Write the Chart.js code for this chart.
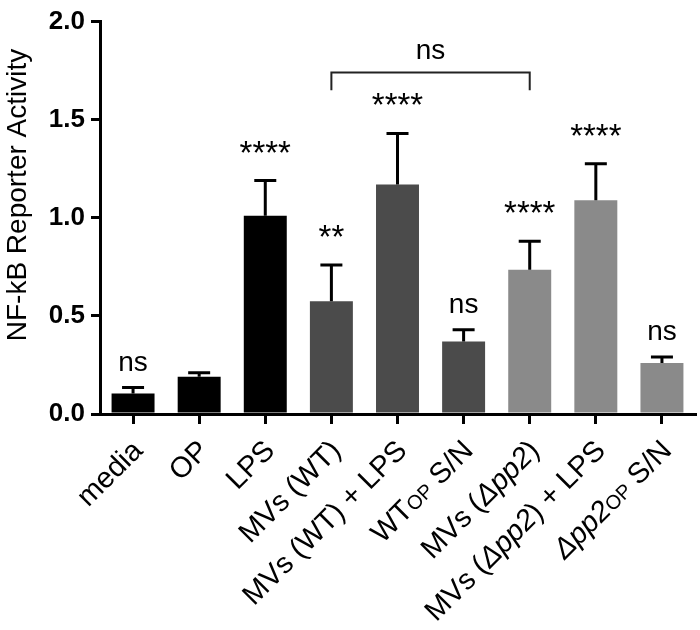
<!DOCTYPE html>
<html>
<head>
<meta charset="utf-8">
<script src="https://cdn.jsdelivr.net/npm/chart.js@4.4.1/dist/chart.umd.min.js"></script>
<style>
  html, body { margin: 0; padding: 0; background: #fff; }
</style>
</head>
<body>
<canvas id="chart" width="700" height="630"></canvas>
<script>
// ============================================================
// DATA
// ============================================================
const categories = [
  "media", "OP", "LPS", "MVs (WT)", "MVs (WT) + LPS",
  "WTOP S/N", "MVs (Δpp2)", "MVs (Δpp2) + LPS", "Δpp2OP S/N",
];
const means = [0.105, 0.19, 1.01, 0.575, 1.17, 0.37, 0.735, 1.09, 0.26];
const errors = [0.03, 0.02, 0.18, 0.185, 0.26, 0.06, 0.145, 0.185, 0.03];
const marks = ["ns", "", "****", "**", "****", "ns", "****", "****", "ns"];
const barColors = [
  "#000000", "#000000", "#000000",
  "#4b4b4b", "#4b4b4b", "#4b4b4b",
  "#8a8a8a", "#8a8a8a", "#8a8a8a",
];
const yTicks = [0, 0.5, 1.0, 1.5, 2.0];
const yTitle = "NF-kB Reporter Activity";

// comparison bracket between MVs (WT) and MVs (Δpp2)
const bracketFrom = 3;
const bracketTo = 6;
const bracketLabel = "ns";
const bracketLevel = 1.74;
const bracketLeg = 1.65;

const FONT = '"Liberation Sans", Arial, Helvetica, sans-serif';

// split a category name into styled pieces (italic Δpp2, small "OP")
function labelParts(label) {
  return label
    .split(/(Δpp2|OP(?= S\/N))/)
    .filter(Boolean)
    .map((t) => ({
      t,
      font:
        t === "Δpp2" ? `italic 29px ${FONT}` :
        t === "OP" && label !== "OP" ? `20px ${FONT}` :
        `29px ${FONT}`,
    }));
}

// ============================================================
// EXTRA DRAWING (error bars, stars, bracket, labels)
// ============================================================
const extras = {
  id: "extras",
  afterDatasetsDraw(chart) {
    const { ctx } = chart;
    const x = chart.scales.x;
    const y = chart.scales.y;
    ctx.save();
    ctx.strokeStyle = "#000";
    ctx.fillStyle = "#000";
    ctx.lineWidth = 3;
    means.forEach((m, i) => {
      const cx = x.getPixelForValue(i);
      const base = y.getPixelForValue(m);
      const top = y.getPixelForValue(m + errors[i]);
      ctx.beginPath();
      ctx.moveTo(cx, base);
      ctx.lineTo(cx, top);
      ctx.moveTo(cx - 11, top);
      ctx.lineTo(cx + 11, top);
      ctx.stroke();
      if (marks[i]) {
        ctx.font = marks[i] === "ns" ? `28px ${FONT}` : `33px ${FONT}`;
        ctx.textAlign = "center";
        ctx.textBaseline = "alphabetic";
        ctx.fillText(marks[i], cx, top - 17);
      }
    });

    // bracket
    const x1 = x.getPixelForValue(bracketFrom);
    const x2 = x.getPixelForValue(bracketTo);
    const yb = y.getPixelForValue(bracketLevel);
    const yl = y.getPixelForValue(bracketLeg);
    ctx.lineWidth = 2;
    ctx.strokeStyle = "#222";
    ctx.beginPath();
    ctx.moveTo(x1, yl);
    ctx.lineTo(x1, yb);
    ctx.lineTo(x2, yb);
    ctx.lineTo(x2, yl);
    ctx.stroke();
    ctx.font = `28px ${FONT}`;
    ctx.textAlign = "center";
    ctx.fillText(bracketLabel, (x1 + x2) / 2, yb - 14);

    // rotated category labels
    const axisY = x.top;
    categories.forEach((label, i) => {
      const px = x.getPixelForTick(i);
      const parts = labelParts(label);
      let total = 0;
      parts.forEach((p) => {
        ctx.font = p.font;
        p.w = ctx.measureText(p.t).width;
        total += p.w;
      });
      ctx.save();
      ctx.translate(px + 11, axisY + 38);
      ctx.rotate(-Math.PI / 4);
      ctx.textAlign = "left";
      ctx.textBaseline = "alphabetic";
      let cur = -total;
      parts.forEach((p) => {
        ctx.font = p.font;
        ctx.fillText(p.t, cur, 0);
        cur += p.w;
      });
      ctx.restore();
    });

    // y axis title
    ctx.save();
    ctx.translate(18, 195);
    ctx.rotate(-Math.PI / 2);
    ctx.font = `28px ${FONT}`;
    ctx.textAlign = "center";
    ctx.textBaseline = "middle";
    ctx.fillText(yTitle, 0, 0);
    ctx.restore();

    ctx.restore();
  },
};

// ============================================================
// CHART
// ============================================================
new Chart(document.getElementById("chart").getContext("2d"), {
  type: "bar",
  data: {
    labels: categories,
    datasets: [
      {
        data: means,
        backgroundColor: barColors,
        borderWidth: 0,
        barPercentage: 0.65,
        categoryPercentage: 1,
      },
    ],
  },
  options: {
    responsive: false,
    animation: false,
    layout: { padding: { top: 16, right: 5, left: 0, bottom: 0 } },
    plugins: { legend: { display: false }, tooltip: { enabled: false } },
    scales: {
      x: {
        grid: {
          display: true,
          offset: false,
          drawOnChartArea: false,
          drawTicks: true,
          tickLength: 10,
          lineWidth: 3,
          color: "#000",
        },
        border: { display: true, color: "#000", width: 3 },
        ticks: { display: false },
        afterFit: (scale) => { scale.height = 216; },
      },
      y: {
        min: 0,
        max: 2,
        afterBuildTicks: (scale) => {
          scale.ticks = yTicks.map((v) => ({ value: v }));
        },
        ticks: {
          color: "#000",
          padding: 6,
          font: { family: FONT, size: 26, weight: "bold" },
          callback: (v) => Number(v).toFixed(1),
        },
        grid: {
          display: true,
          drawOnChartArea: false,
          drawTicks: true,
          tickLength: 9,
          lineWidth: 3,
          color: "#000",
        },
        border: { display: true, color: "#000", width: 3 },
        afterFit: (scale) => { scale.width = 100; },
      },
    },
  },
  plugins: [extras],
});
</script>
</body>
</html>
